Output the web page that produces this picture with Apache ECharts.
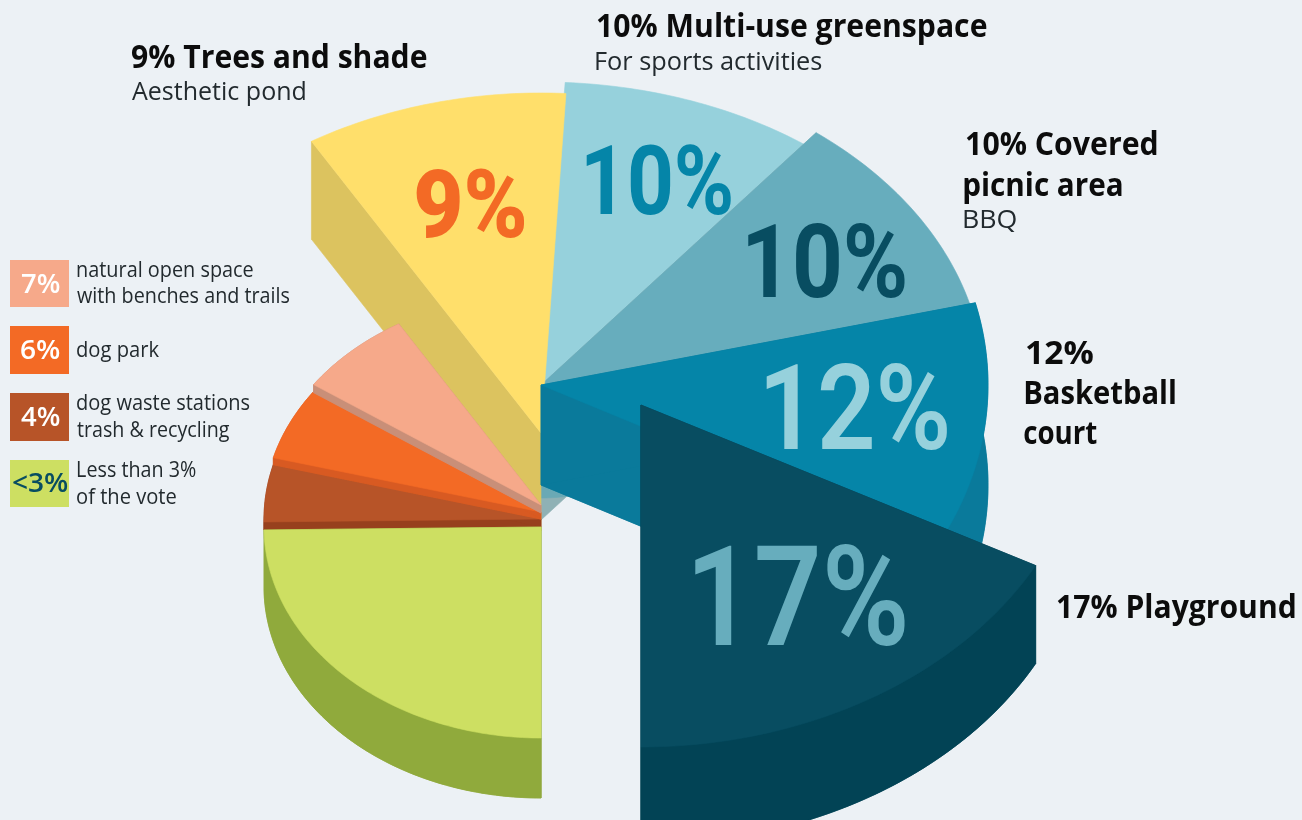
<!DOCTYPE html>
<html><head><meta charset="utf-8">
<style>html,body{margin:0;padding:0;background:#ecf1f5}#c{width:1302px;height:820px}</style>
<script src="https://cdn.jsdelivr.net/npm/echarts@6/dist/echarts.min.js"></script>
</head><body><div id="c"></div>
<script>
// ---- data, clockwise starting from the left edge of the pie
const categories = ['dog waste stations trash & recycling','dog park','natural open space with benches and trails','Trees and shade','Multi-use greenspace','Covered picnic area','Basketball court','Playground','Less than 3% of the vote'];
const values = [4, 6, 7, 9, 10, 10, 12, 17, 25];
const topColors = ['#b75428','#f36a25','#f6a98a','#ffdf6b','#96d1dc','#67adbd','#0585a8','#084d61','#cddf62'];
const wallColors = ['#97401d','#d85a22','#c98f78','#dcc35f',null,'#8fb1b5','#0a7a9b','#024355','#90aa3c'];
// ---- how each slice is placed (exploded 3D look)
const sliceCenterX = [541,541,541,541,541,541,541,641,541];
const sliceCenterY = [519,512,505,433,385,385,385,405,527];
const sliceRadiusX = [277,277,277,447,433,443,447,447,277];
const sliceRadiusY = [211,211,211,340,303,322,347,342,211];
const sliceDepth   = [8,7,8,98,0,135,100,98,60];
const edgeNudgeDeg = [-0.8,0.5,-1.2,-2.1,-0.4,-1.2,0.7,-0.8,0]; // the artist's small departures from exact proportion
const drawOrder = [4,5,3,6,0,1,2,7,8];
const edgeWallOnly = [3,5];  // these slices show only their first cut face
const innerCoreOf = 5;       // this slice also shows a small inner wedge under the tip
const innerCore = {rx:150, ry:113, from:180, to:270, color:'#6aa9b5'};

const total = values.reduce((a,b)=>a+b,0);
const starts = []; values.reduce((acc,v,i)=>{starts[i]=acc;return acc+v;},0);
function edgeAngle(i){
  const n=values.length, wrapped=i%n, base=i>=n?total:starts[wrapped];
  return (base/total*360+edgeNudgeDeg[wrapped])*Math.PI/180;
}
function pt(cx,cy,rx,ry,t){return [cx-rx*Math.cos(t), cy-ry*Math.sin(t)];}
function arc(cx,cy,rx,ry,a0,a1){const n=Math.max(8,Math.ceil(Math.abs(a1-a0)*60)),o=[];for(let k=0;k<=n;k++){o.push(pt(cx,cy,rx,ry,a0+(a1-a0)*k/n));}return o;}
function poly(points,color){return {type:'polygon',shape:{points},silent:true,style:{fill:color,stroke:color,lineWidth:0.6}};}

function renderSlice(params,api){
  const i=api.value(0), a0=edgeAngle(i), a1=edgeAngle(i+1);
  const cx=sliceCenterX[i],cy=sliceCenterY[i],rx=sliceRadiusX[i],ry=sliceRadiusY[i],d=sliceDepth[i];
  const rim=arc(cx,cy,rx,ry,a0,a1), kids=[];
  if(d>0){
    const wc=wallColors[i], down=p=>[p[0],p[1]+d];
    const first=rim[0], last=rim[rim.length-1], tip=[cx,cy];
    kids.push(poly([tip,first,down(first),down(tip)],wc));
    if(edgeWallOnly.indexOf(i)<0){
      kids.push(poly([tip,last,down(last),down(tip)],wc));
      kids.push(poly([tip].concat(rim).map(down),wc));
      kids.push(poly(rim.concat(rim.slice().reverse().map(down)),wc));
    }
  }
  if(i===innerCoreOf){
    const c=innerCore, k=Math.PI/180;
    kids.push(poly([[cx,cy]].concat(arc(cx,cy,c.rx,c.ry,c.from*k,c.to*k)),c.color));
  }
  kids.push(poly([[cx,cy]].concat(rim),topColors[i]));
  return {type:'group',children:kids};
}

// ---- text helpers: place by baseline / bounding box, stretched to the width seen in the picture
const ctx=document.createElement('canvas').getContext('2d');
function label(text,x0,x1,baseline,size,weight,family,color){
  const font=weight+' '+size+'px "'+family+'"';
  ctx.font=font; ctx.textBaseline='middle';
  const m=ctx.measureText(text), offs=ctx.measureText('H').actualBoundingBoxDescent;
  const left=m.actualBoundingBoxLeft||0, w=m.actualBoundingBoxLeft+m.actualBoundingBoxRight;
  const sx=(x1-x0)/w;
  return {type:'text',z:100,silent:true,x:x0+left*sx,y:baseline-offs+0.7,scaleX:sx,
    style:{text,font,fill:color,textAlign:'left',textVerticalAlign:'middle'}};
}
function big(text,x0,x1,yTop,yBot,weight,color){
  const fam='Roboto'; ctx.font=weight+' 100px "'+fam+'"'; ctx.textBaseline='middle';
  const capH=ctx.measureText('1').actualBoundingBoxAscent+ctx.measureText('1').actualBoundingBoxDescent;
  return label(text,x0,x1,yBot,100*(yBot-yTop)/capH,weight,fam,color);
}
const HEAD='Open Sans', INK='#0c0c0c', SOFT='#222a2e';
const pct=i=>values[i]+'%';
const texts=[
  big(pct(3),416,524,168,236,900,'#f36a25'),
  big(pct(4),586,731,144,213,700,'#0585a8'),
  big(pct(5),748,905,223,297,700,'#084d61'),
  big(pct(6),766,947,362,448,600,'#96d1dc'),
  big(pct(7),695,905,545,645,600,'#67adbd'),
  label('9% Trees and shade',132,427,67,33,700,HEAD,INK),
  label('Aesthetic pond',132,305,99,26,400,HEAD,SOFT),
  label('10% Multi-use greenspace',597,987,36,33,700,HEAD,INK),
  label('For sports activities',596,822,69,26,400,HEAD,SOFT),
  label('10% Covered',966,1157,154,33,700,HEAD,INK),
  label('picnic area',964,1122,195,33,700,HEAD,INK),
  label('BBQ',964,1016,227,26,400,HEAD,SOFT),
  label('12%',1026,1093,363,33,700,HEAD,INK),
  label('Basketball',1025,1175,403,33,700,HEAD,INK),
  label('court',1024,1097,443,33,700,HEAD,INK),
  label('17% Playground',1057,1295,617,33,700,HEAD,INK)
];
// legend swatches
const legendIdx=[2,1,0,8];
const legendTop=[260,326,393,460], legendBottom=[307,374,441,507];
const legendMark=['7%','6%','4%','<3%'];
const legendMarkColor=['#fff','#fff','#fff','#084d61'];
const legendMarkX=[[21,60],[21,60],[21,60],[13,68]];
const legendMarkBase=[292,358,425,491];
const legendLines=[
  [['natural open space',77,253,276],['with benches and trails',77,290,302]],
  [['dog park',77,159,356]],
  [['dog waste stations',77,250,409],['trash & recycling',77,229,436]],
  [['Less than 3%',78,196,476],['of the vote',77,176,503]]
];
const legend=[];
legendIdx.forEach((idx,k)=>{
  legend.push({type:'rect',z:100,silent:true,shape:{x:10,y:legendTop[k],width:59,height:legendBottom[k]-legendTop[k]},style:{fill:topColors[idx]}});
  legend.push(Object.assign(label(legendMark[k],legendMarkX[k][0],legendMarkX[k][1],legendMarkBase[k],27,600,HEAD,legendMarkColor[k]),{z:101}));
  legendLines[k].forEach(l=>legend.push(label(l[0],l[1],l[2],l[3],21,400,HEAD,SOFT)));
});

const chart=echarts.init(document.getElementById('c'),null,{renderer:'canvas'});
chart.setOption({
  animation:false,
  backgroundColor:'#ecf1f5',
  series:[{type:'custom',coordinateSystem:'none',renderItem:renderSlice,silent:true,
    data:drawOrder.map(i=>({name:categories[i],value:[i,values[i]]}))}],
  graphic:{elements:texts.concat(legend)}
});
</script></body></html>
